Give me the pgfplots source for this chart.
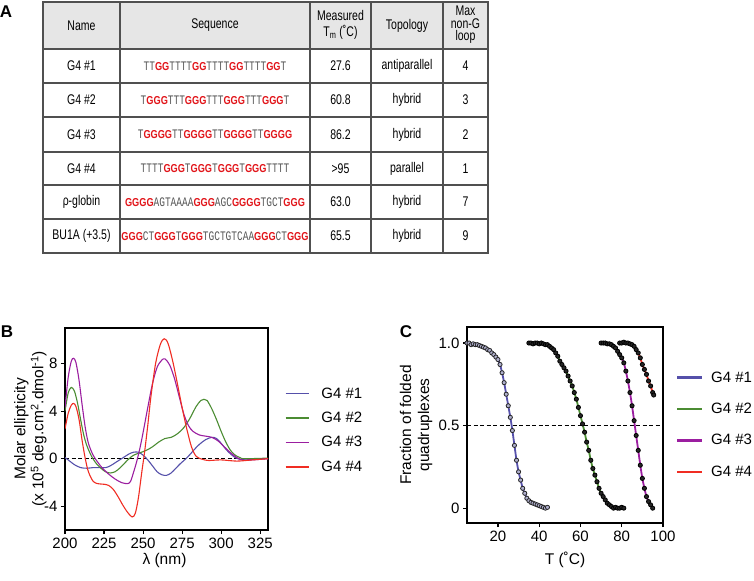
\documentclass[border=0pt]{standalone}
\usepackage{pgfplots}
\pgfplotsset{compat=1.18}
\usepackage{pgfplotstable}
\usepackage{fontspec}
\setmainfont{Liberation Sans}
\newfontfamily\narrowsans{Liberation Sans}[FakeStretch=0.75]
\newfontfamily\gsans{Liberation Sans}[FakeStretch=0.8]
\newfontfamily\seqmono{Liberation Mono}[FakeStretch=0.73]

\definecolor{cblue}{RGB}{85,80,170}
\definecolor{cgreen}{RGB}{75,140,50}
\definecolor{cpurple}{RGB}{155,30,160}
\definecolor{cred}{RGB}{240,45,35}
\definecolor{seqred}{RGB}{225,20,25}
\definecolor{seqgray}{RGB}{85,85,85}
\definecolor{headgray}{RGB}{230,230,230}
\definecolor{rulegray}{RGB}{80,80,80}

\newcommand{\tabfont}{\narrowsans\fontsize{14bp}{16bp}\selectfont}
\newcommand{\g}[1]{{\color{seqred}\gsans\fontsize{11.5bp}{12bp}\selectfont\bfseries #1}}
\newcommand{\sq}[1]{{\seqmono\fontsize{13bp}{13bp}\selectfont\color{seqgray}#1}}

% melting curves, fraction folded vs temperature
\pgfplotstableread{
T f
5 1.00
6 1.00
7 0.99
8 0.995
9 0.99
10 0.99
11 0.985
12 0.98
13 0.975
14 0.97
15 0.96
16 0.955
17 0.94
18 0.93
19 0.915
20 0.90
21 0.87
22 0.82
23 0.76
24 0.69
25 0.62
26 0.55
27 0.47
28 0.38
29 0.29
30 0.22
31 0.17
32 0.12
33 0.09
34 0.06
35 0.045
36 0.035
37 0.03
38 0.025
39 0.02
40 0.015
41 0.01
42 0.005
43 0.00
44 0.005
}\meltA
\pgfplotstableread{
T f
35 1.00
36 1.00
37 0.995
38 1.00
39 1.00
40 0.995
41 1.00
42 0.995
43 0.99
44 0.99
45 0.98
46 0.97
47 0.96
48 0.94
49 0.92
50 0.89
51 0.87
52 0.85
53 0.83
54 0.80
55 0.77
56 0.74
57 0.70
58 0.66
59 0.61
60 0.56
61 0.51
62 0.46
63 0.40
64 0.35
65 0.29
66 0.24
67 0.20
68 0.16
69 0.12
70 0.09
71 0.07
72 0.05
73 0.03
74 0.02
75 0.01
76 0.00
77 0.005
78 0.00
79 0.00
80 0.005
81 0.00
}\meltB
\pgfplotstableread{
T f
70 1.00
71 1.00
72 1.00
73 0.995
74 0.995
75 0.99
76 0.98
77 0.97
78 0.95
79 0.93
80 0.91
81 0.88
82 0.83
83 0.77
84 0.70
85 0.62
86 0.53
87 0.44
88 0.35
89 0.26
90 0.18
91 0.12
92 0.07
93 0.04
94 0.02
95 0.00
}\meltC
\pgfplotstableread{
T f
79 1.00
80 1.00
81 1.005
82 1.00
83 1.00
84 0.995
85 0.99
86 0.98
87 0.96
88 0.94
89 0.91
90 0.87
91 0.84
92 0.81
93 0.77
94 0.74
95 0.70
95.5 0.685
}\meltD

\pgfplotsset{
  panel/.style={
    scale only axis,
    anchor=south west,
    axis line style={line width=1.3bp},
    tick style={line width=1.1bp, black},
    major tick length=4bp,
    tick align=outside,
    xtick pos=left, ytick pos=left,
    ticklabel style={font=\fontsize{15bp}{17bp}\selectfont},
    label style={font=\fontsize{15.5bp}{18bp}\selectfont},
    /pgf/number format/assume math mode=true,
    legend cell align=left,
  },
}

\begin{document}
\begin{tikzpicture}
\path[use as bounding box] (0,0) rectangle (754bp,-581bp);

% ---- panel A: table ----
\begin{scope}[x=1bp, y=-1bp]
\fill[headgray] (43,2) rectangle (488,49);
\draw[rulegray, line width=1.2bp] (43,2) rectangle (488,253);
\foreach \yy in {49,83,117,152,185,219}
  \draw[rulegray, line width=1.2bp] (43,\yy) -- (488,\yy);
\foreach \xx in {120,310,371,443}
  \draw[rulegray, line width=1.2bp] (\xx,2) -- (\xx,253);

\node[font=\bfseries\fontsize{17bp}{17bp}\selectfont] at (6,12) {A};

\begin{scope}[every node/.style={font=\tabfont, align=center}]
\node at (81.5,25.5) {Name};
\node at (215,25.5) {Sequence};
\node at (340.5,25) {Measured\\T\textsubscript{m} (˚C)};
\node at (407,25.5) {Topology};
\node[font=\narrowsans\fontsize{14bp}{12.5bp}\selectfont] at (465.5,25) {Max\\non-G\\loop};

\node at (81.5,66) {G4 \#1};
\node at (81.5,100) {G4 \#2};
\node at (81.5,134.5) {G4 \#3};
\node at (81.5,168.5) {G4 \#4};
\node at (81.5,202) {ρ-globin};
\node at (81.5,236) {BU1A (+3.5)};

\node at (340.5,66) {27.6};
\node at (340.5,100) {60.8};
\node at (340.5,134.5) {86.2};
\node at (340.5,168.5) {>95};
\node at (340.5,202) {63.0};
\node at (340.5,236) {65.5};

\node at (407,66) {antiparallel};
\node at (407,100) {hybrid};
\node at (407,134.5) {hybrid};
\node at (407,168.5) {parallel};
\node at (407,202) {hybrid};
\node at (407,236) {hybrid};

\node at (465.5,66) {4};
\node at (465.5,100) {3};
\node at (465.5,134.5) {2};
\node at (465.5,168.5) {1};
\node at (465.5,202) {7};
\node at (465.5,236) {9};

\node at (215,66) {\sq{TT}\g{GG}\sq{TTTT}\g{GG}\sq{TTTT}\g{GG}\sq{TTTT}\g{GG}\sq{T}};
\node at (215,100) {\sq{T}\g{GGG}\sq{TTT}\g{GGG}\sq{TTT}\g{GGG}\sq{TTT}\g{GGG}\sq{T}};
\node at (215,134.5) {\sq{T}\g{GGGG}\sq{TT}\g{GGGG}\sq{TT}\g{GGGG}\sq{TT}\g{GGGG}};
\node at (215,168.5) {\sq{TTTT}\g{GGG}\sq{T}\g{GGG}\sq{T}\g{GGG}\sq{T}\g{GGG}\sq{TTTT}};
\node at (215,202) {\g{GGGG}\sq{AGTAAAA}\g{GGG}\sq{AGC}\g{GGGG}\sq{TGCT}\g{GGG}};
\node at (215,236) {\g{GGG}\sq{CT}\g{GGG}\sq{T}\g{GGG}\sq{TGCTGTCAA}\g{GGG}\sq{CT}\g{GGG}};
\end{scope}

\node[font=\bfseries\fontsize{17bp}{17bp}\selectfont] at (7,332) {B};
\node[font=\bfseries\fontsize{17bp}{17bp}\selectfont] at (406,332) {C};
\end{scope}

% ---- panel B: CD spectra ----
\begin{axis}[panel,
  at={(65bp,-530bp)}, width=203bp, height=202bp,
  xmin=200, xmax=330, ymin=-6, ymax=11,
  xtick={200,225,...,325}, ytick={-4,0,4,8},
  xlabel={λ (nm)},
  ylabel={Molar ellipticity\\(x 10\textsuperscript{5} deg.cm\textsuperscript{2}.dmol\textsuperscript{-1})},
  ylabel style={align=center, at={(axis description cs:-0.17,0.5)}, anchor=center},
  xlabel style={at={(axis description cs:0.49,-0.149)}, anchor=center},
  legend style={draw=none, fill=none, inner sep=0pt, outer sep=0pt,
    at={(1.084,0.715)}, anchor=north west, row sep=8.5bp, column sep=10bp,
    font=\fontsize{15bp}{17bp}\selectfont,
    nodes={inner sep=2bp}},
  legend image code/.code={\draw[#1, line width=1.3bp] (0bp,0bp) -- (23bp,0bp);},
]
\addplot[black, dashed, line width=1.4bp, dash pattern=on 4bp off 2.5bp, forget plot] coordinates {(200,0)(330,0)};
\addplot[cblue, line width=1.1bp, smooth] coordinates {
(200,0.1)(203,-0.2)(206,-0.5)(210,-0.75)(214,-0.8)(218,-0.75)(222,-0.75)(226,-0.75)(229,-0.6)(232,-0.35)(235,-0.1)(238,0.15)(241,0.4)(244,0.55)(247,0.55)(250,0.3)(253,-0.1)(256,-0.6)(259,-1.1)(262,-1.35)(265,-1.4)(268,-1.2)(271,-0.8)(274,-0.4)(277,-0.05)(280,0.35)(283,0.8)(286,1.2)(290,1.6)(294,1.8)(297,1.7)(300,1.3)(303,0.8)(306,0.4)(309,0.1)(312,-0.05)(316,-0.1)(320,-0.05)(325,0)(330,0)};
\addplot[cgreen, line width=1.1bp, smooth] coordinates {
(200,4.0)(202,5.5)(204,6.0)(206,5.7)(208,4.7)(210,3.3)(212,2.0)(214,1.1)(217,0.2)(220,-0.4)(223,-0.8)(226,-1.1)(229,-1.2)(232,-1.1)(235,-0.8)(238,-0.4)(241,0)(244,0.3)(248,0.5)(252,0.7)(256,1.0)(260,1.4)(264,1.7)(268,1.8)(272,2.1)(276,2.6)(280,3.4)(284,4.4)(287,4.9)(289,5.0)(291,4.9)(294,4.2)(297,3.3)(300,2.3)(303,1.4)(306,0.7)(309,0.3)(312,0.1)(315,0.0)(330,0.05)};
\addplot[cpurple, line width=1.1bp, smooth] coordinates {
(200,4.3)(202,6.8)(204,8.2)(205.5,8.45)(207,8.1)(209,6.6)(211,4.5)(213,2.6)(215,1.3)(218,0.3)(221,-0.3)(224,-0.8)(228,-1.3)(232,-1.7)(236,-2.0)(240,-2.1)(242,-1.9)(244,-1.1)(246,-0.2)(248,0.9)(250,2.2)(253,4.3)(256,6.3)(259,7.7)(262,8.3)(264,8.4)(267,7.9)(270,6.8)(273,5.3)(276,3.8)(279,2.8)(282,2.3)(286,2.0)(290,1.9)(294,1.8)(298,1.5)(302,1.0)(306,0.5)(310,0.1)(313,-0.1)(320,-0.1)(330,0)};
\addplot[cred, line width=1.1bp, smooth] coordinates {
(200,2.5)(202,3.8)(204,4.5)(205.5,4.65)(207,4.4)(209,3.3)(211,1.5)(213,0)(215,-1.1)(218,-1.9)(221,-2.1)(225,-2.15)(228,-2.25)(231,-2.6)(234,-3.2)(237,-3.9)(240,-4.5)(243,-4.9)(245,-4.6)(247,-3.3)(249,-1.3)(251,0.6)(253,2.8)(255,5.2)(258,8.0)(261,9.6)(263.5,10.1)(266,9.7)(269,8.2)(272,6.3)(275,4.3)(278,2.5)(281,1.0)(284,0.2)(288,-0.05)(292,-0.15)(300,-0.1)(310,-0.2)(320,-0.1)(330,0)};
\legend{G4 \#1, G4 \#2, G4 \#3, G4 \#4}
\end{axis}

% ---- panel C: melting curves ----
\begin{axis}[panel,
  at={(467bp,-523bp)}, width=196bp, height=196bp,
  xmin=5, xmax=100, ymin=-0.09, ymax=1.097,
  xtick={20,40,60,80,100}, ytick={0,0.5,1}, yticklabels={0,0.5,1.0},
  xlabel={T (˚C)},
  ylabel={Fraction of folded\\quadruplexes},
  ylabel style={align=center, at={(axis description cs:-0.26,0.5)}, anchor=center},
  xlabel style={at={(axis description cs:0.5,-0.19)}, anchor=center},
  legend style={draw=none, fill=none, inner sep=0pt, outer sep=0pt,
    at={(1.066,0.783)}, anchor=north west, row sep=15.5bp, column sep=6bp,
    font=\fontsize{15bp}{17bp}\selectfont,
    nodes={inner sep=2bp}},
  legend image code/.code={\draw[#1, line width=2.2bp] (0bp,0bp) -- (25bp,0bp);},
]
\addplot[black, dashed, line width=1.4bp, dash pattern=on 4bp off 2.5bp, forget plot] coordinates {(5,0.5)(100,0.5)};
\addplot[only marks, mark=*, mark size=2.1bp, mark options={draw=black!85, fill={rgb,255:red,175;green,175;blue,205}, line width=0.8bp}, forget plot] table {\meltA};
\addplot[cblue, line width=1.8bp, smooth] table {\meltA};
\addplot[only marks, mark=*, mark size=2.1bp, mark options={draw=black, fill=black!85, line width=0.8bp}, forget plot] table {\meltB};
\addplot[cgreen, line width=1.8bp, smooth] table {\meltB};
\addplot[only marks, mark=*, mark size=2.1bp, mark options={draw=black, fill=black!85, line width=0.8bp}, forget plot] table {\meltC};
\addplot[cpurple, line width=1.8bp, smooth] table {\meltC};
\addplot[only marks, mark=*, mark size=2.1bp, mark options={draw=black, fill=black!85, line width=0.8bp}, forget plot] table {\meltD};
\addplot[cred, line width=1.8bp, smooth] table {\meltD};
\legend{G4 \#1, G4 \#2, G4 \#3, G4 \#4}
\end{axis}
\end{tikzpicture}
\end{document}
